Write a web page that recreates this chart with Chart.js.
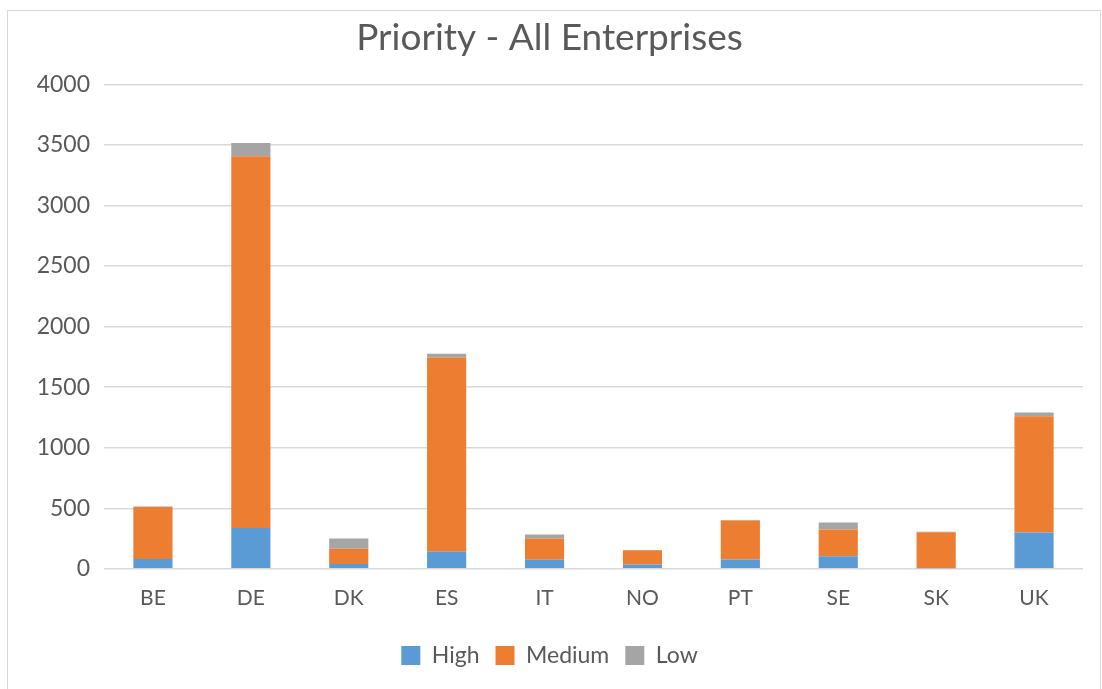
<!DOCTYPE html>
<html lang="en">
<head>
  <meta charset="UTF-8">
  <title>Priority - All Enterprises</title>
  <script src="https://cdn.jsdelivr.net/npm/chart.js"></script>
  <style>
    body {
      margin: 0;
      background: #ffffff;
      overflow: hidden;
    }
    #chartBox {
      position: absolute;
      left: 7px;
      top: 10px;
      width: 1092px;
      height: 690px;
      border: 1px solid #d9d9d9;
      background: #ffffff;
    }
    #chartBox canvas {
      position: absolute;
      left: 0;
      top: 0;
    }
  </style>
</head>
<body>
  <div id="chartBox">
    <canvas id="priorityChart" width="1092" height="678"></canvas>
  </div>

  <script>
    const countries = ["BE", "DE", "DK", "ES", "IT", "NO", "PT", "SE", "SK", "UK"];
    const highValues = [80, 337, 40, 140, 75, 35, 76, 103, 5, 300];
    const mediumValues = [430, 3070, 125, 1605, 175, 118, 322, 221, 297, 960];
    const lowValues = [5, 110, 85, 30, 33, 3, 5, 58, 3, 30];
    const yTicks = [0, 500, 1000, 1500, 2000, 2500, 3000, 3500, 4000];

    const textColor = "#595959";
    const fontFamily = "Lato, 'Open Sans', sans-serif";

    const ctx = document.getElementById("priorityChart").getContext("2d");

    const chart = new Chart(ctx, {
      type: "bar",
      data: {
        labels: countries,
        datasets: [
          { label: "High", data: highValues, backgroundColor: "#5b9bd5" },
          { label: "Medium", data: mediumValues, backgroundColor: "#ed7d31" },
          { label: "Low", data: lowValues, backgroundColor: "#a5a5a5" }
        ]
      },
      options: {
        responsive: false,
        animation: false,
        categoryPercentage: 0.8,
        barPercentage: 0.5,
        layout: {
          padding: { left: 8, right: 17, top: 0, bottom: 12 }
        },
        plugins: {
          title: {
            display: true,
            text: "Priority - All Enterprises",
            color: textColor,
            font: { family: fontFamily, size: 37, weight: "normal" },
            padding: { top: 5, bottom: 24 }
          },
          legend: {
            position: "bottom",
            labels: {
              color: textColor,
              font: { family: fontFamily, size: 23 },
              boxWidth: 19,
              boxHeight: 19,
              padding: 16
            }
          },
          tooltip: { enabled: false }
        },
        scales: {
          x: {
            stacked: true,
            grid: { display: false, drawTicks: false },
            border: { display: false },
            ticks: {
              color: textColor,
              font: { family: fontFamily, size: 21 },
              padding: 17
            }
          },
          y: {
            stacked: true,
            min: 0,
            max: 4000,
            afterBuildTicks: (scale) => {
              scale.ticks = yTicks.map(v => ({ value: v }));
            },
            afterFit: (scale) => {
              scale.width = 88;
            },
            grid: {
              color: "#d9d9d9",
              lineWidth: 1.5,
              drawTicks: false
            },
            border: { display: false },
            ticks: {
              color: textColor,
              font: { family: fontFamily, size: 23 },
              padding: 14,
              callback: (value) => String(value)
            }
          }
        }
      }
    });
  </script>
</body>
</html>
